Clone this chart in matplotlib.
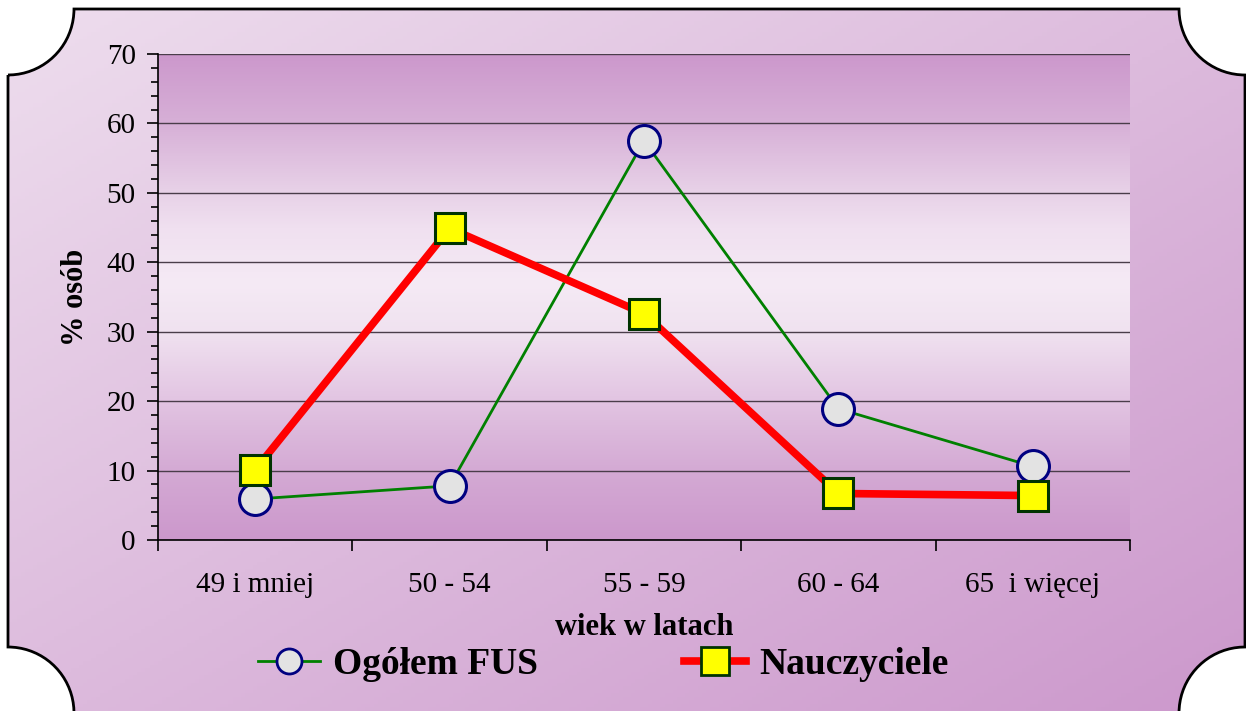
import numpy as np
import matplotlib
matplotlib.use("Agg")
import matplotlib.pyplot as plt
from matplotlib.path import Path
from matplotlib.patches import PathPatch
from matplotlib.lines import Line2D
from matplotlib.ticker import MultipleLocator, FixedLocator

# dane
kategorie = ["49 i mniej", "50 - 54", "55 - 59", "60 - 64", "65  i więcej"]
ogolem_fus = [5.9, 7.8, 57.5, 18.9, 10.6]
nauczyciele = [10.1, 44.9, 32.6, 6.7, 6.4]

plt.rcParams["font.family"] = ["Liberation Serif", "DejaVu Serif"]

W, H = 1246, 711
fig = plt.figure(figsize=(W / 100, H / 100), dpi=100)
fig.patch.set_facecolor("white")

# tlo z wkleslymi rogami
bg = fig.add_axes([0, 0, 1, 1])
bg.set_xlim(0, W)
bg.set_ylim(H, 0)
bg.axis("off")

xx, yy = np.meshgrid(np.linspace(0, 1, 300), np.linspace(0, 1, 200))
v = (xx + yy) / 2
c0 = np.array([238, 222, 238]) / 255
c1 = np.array([204, 152, 204]) / 255
img = c0[None, None, :] * (1 - v[..., None]) + c1[None, None, :] * v[..., None]
im = bg.imshow(img, extent=[0, W, H, 0], aspect="auto", zorder=0)

L, T, R, B, r = 8, 9, 1245, 713, 66

def arc(cx, cy, a0, a1):
    t = np.radians(np.linspace(a0, a1, 40))
    return list(zip(cx + r * np.cos(t), cy + r * np.sin(t)))

pts = []
pts += arc(L, T, 90, 0)            # lewy gorny
pts += arc(R, T, 180, 90)          # prawy gorny
pts += arc(R, B, 270, 180)         # prawy dolny
pts += arc(L, B, 360, 270)         # lewy dolny
pts.append(pts[0])
frame = Path(pts)
patch = PathPatch(frame, facecolor="none", edgecolor="black", lw=2, zorder=2)
bg.add_patch(patch)
im.set_clip_path(patch)

# wykres
ax = fig.add_axes([158 / W, 1 - 540 / H, (1130 - 158) / W, (540 - 54) / H])
ax.set_xlim(-0.5, 4.5)
ax.set_ylim(0, 70)

stops_y = [0, 10, 20, 30, 37, 45, 50, 60, 70]
stops_c = np.array([[204, 152, 204], [212, 170, 212], [226, 196, 226], [240, 226, 240],
                    [245, 234, 245], [240, 224, 240], [232, 210, 232], [215, 176, 215],
                    [204, 152, 204]]) / 255
ys = np.linspace(70, 0, 300)
grad = np.stack([np.interp(ys, stops_y, stops_c[:, k]) for k in range(3)], axis=-1)
grad = np.repeat(grad[:, None, :], 2, axis=1)
ax.imshow(grad, extent=[-0.5, 4.5, 0, 70], aspect="auto", zorder=0)

ax.yaxis.set_major_locator(MultipleLocator(10))
ax.yaxis.set_minor_locator(MultipleLocator(2))
ax.grid(axis="y", which="major", color="#4a3d4a", lw=1, zorder=1)
ax.set_axisbelow(False)

x = np.arange(len(kategorie))
ax.xaxis.set_major_locator(FixedLocator(np.arange(-0.5, 5, 1)))
ax.xaxis.set_minor_locator(FixedLocator(x))
ax.set_xticklabels([""] * 6)
ax.set_xticklabels(kategorie, minor=True)
ax.tick_params(axis="x", which="major", length=8, width=1.2, direction="out")
ax.tick_params(axis="x", which="minor", length=0, pad=23, labelsize=21)
ax.tick_params(axis="y", which="major", length=8, width=1.2, direction="out",
               labelsize=21, pad=8)
ax.tick_params(axis="y", which="minor", length=5, width=1.2, direction="out")

for s in ["top", "right"]:
    ax.spines[s].set_visible(False)
for s in ["left", "bottom"]:
    ax.spines[s].set_linewidth(1.2)
    ax.spines[s].set_zorder(3)

ax.plot(x, ogolem_fus, color="#008000", lw=2, marker="o", markersize=23,
        markerfacecolor="#e3e3e3", markeredgecolor="#000080", markeredgewidth=2.2,
        zorder=4, clip_on=False)
ax.plot(x, nauczyciele, color="#ff0000", lw=5.5, marker="s", markersize=22,
        markerfacecolor="#ffff00", markeredgecolor="#003300", markeredgewidth=2.2,
        zorder=5, clip_on=False)

ax.set_ylabel("% osób", fontsize=22, fontweight="bold", labelpad=12)
ax.set_xlabel("wiek w latach", fontsize=22, fontweight="bold", labelpad=11)

handles = [
    Line2D([], [], color="#008000", lw=2, marker="o", markersize=18,
           markerfacecolor="#e3e3e3", markeredgecolor="#000080", markeredgewidth=2),
    Line2D([], [], color="#ff0000", lw=5.5, marker="s", markersize=20,
           markerfacecolor="#ffff00", markeredgecolor="#003300", markeredgewidth=2),
]
fig.legend(handles, ["Ogółem FUS", "Nauczyciele"], ncol=2, frameon=False,
           loc="center left", bbox_to_anchor=(258 / W, 1 - 665 / H),
           prop={"size": 27, "weight": "bold"}, handlelength=1.65,
           handletextpad=0.35, columnspacing=3.9, borderpad=0, borderaxespad=0)

fig.savefig("out.png", dpi=100)
